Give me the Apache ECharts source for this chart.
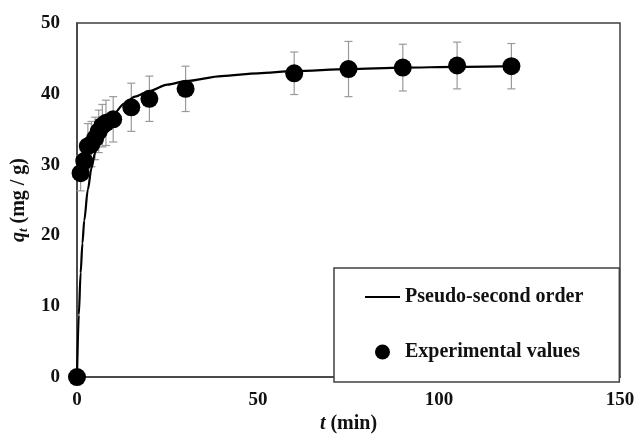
<!DOCTYPE html>
<html>
<head>
<meta charset="utf-8">
<script src="https://cdn.jsdelivr.net/npm/echarts@6/dist/echarts.min.js"></script>
<style>
  html, body { margin: 0; padding: 0; background: #fff; }
  #chart { width: 638px; height: 439px; }
</style>
</head>
<body>
<div id="chart"></div>
<script>
// experimental points (t in min, qt in mg/g) with error bars
var times = [0, 1, 2, 3, 4, 5, 6, 7, 8, 10, 15, 20, 30, 60, 75, 90, 105, 120];
var qt = [0, 28.8, 30.5, 32.6, 32.9, 33.7, 34.7, 35.5, 35.9, 36.4, 38.1, 39.3, 40.7, 42.9, 43.5, 43.7, 44.0, 43.9];
var qtErr = [0, 2.5, 2.5, 3.2, 3.2, 3.0, 3.0, 3.0, 3.2, 3.2, 3.4, 3.2, 3.2, 3.0, 3.9, 3.3, 3.3, 3.2];

// pseudo-second order curve
var fitTimes = [0, 0.5, 1, 1.5, 2, 3, 4, 5, 6, 8, 10, 13, 16, 20, 25, 30, 40, 50, 60, 75, 90, 105, 120];
var fitQt = [0, 8.8, 14.7, 18.9, 22.1, 26.5, 29.5, 31.7, 33.3, 35.6, 37.1, 38.6, 39.6, 40.4, 41.3, 41.8, 42.5, 42.9, 43.2, 43.5, 43.7, 43.8, 43.9];

var xTicks = [0, 50, 100, 150];
var yTicks = [0, 10, 20, 30, 40, 50];

var font = 'Liberation Serif';

var myChart = echarts.init(document.getElementById('chart'));

var pts = times.map(function (t, i) { return [t, qt[i]]; });
var errs = times.map(function (t, i) { return [t, qt[i] - qtErr[i], qt[i] + qtErr[i]]; });
var fit = fitTimes.map(function (t, i) { return [t, fitQt[i]]; });

var option = {
    backgroundColor: '#ffffff',
    animation: false,
    grid: {
        left: 77, top: 23, right: 18, bottom: 57,
        show: true, borderColor: '#404040', borderWidth: 1.5
    },
    legend: {
        orient: 'vertical',
        left: 334, top: 268,
        padding: [19, 36, 20, 31],
        itemGap: 35,
        itemWidth: 35,
        itemHeight: 15,
        symbolKeepAspect: true,
        borderColor: '#404040',
        borderWidth: 1.5,
        backgroundColor: '#ffffff',
        textStyle: { fontFamily: font, fontWeight: 'bold', fontSize: 20, lineHeight: 20, color: '#111' },
        data: [
            { name: 'Pseudo-second order', icon: 'path://M0,0H35V2.2H0Z' },
            { name: 'Experimental values', icon: 'circle' }
        ]
    },
    xAxis: {
        type: 'value',
        min: xTicks[0], max: xTicks[xTicks.length - 1], interval: 50,
        name: '{i|t} (min)',
        nameLocation: 'middle',
        nameGap: 36,
        nameTextStyle: {
            fontFamily: font, fontWeight: 'bold', fontSize: 20, color: '#111',
            rich: { i: { fontFamily: font, fontWeight: 'bold', fontStyle: 'italic', fontSize: 20, color: '#111' } }
        },
        axisLine: { lineStyle: { color: '#404040', width: 1.5 } },
        axisTick: { show: false },
        splitLine: { show: false },
        axisLabel: { margin: 13, fontFamily: font, fontWeight: 'bold', fontSize: 19, color: '#111' }
    },
    yAxis: {
        type: 'value',
        min: yTicks[0], max: yTicks[yTicks.length - 1], interval: 10,
        name: '{q|q}{s|t}{n| (mg / g)}',
        nameLocation: 'middle',
        nameGap: 45,
        nameTextStyle: {
            fontFamily: font, fontWeight: 'bold', fontSize: 20, color: '#111',
            rich: {
                q: { fontFamily: font, fontWeight: 'bold', fontStyle: 'italic', fontSize: 20, color: '#111' },
                s: { fontFamily: font, fontWeight: 'bold', fontStyle: 'italic', fontSize: 13, color: '#111', padding: [9, 0, 0, 0] },
                n: { fontFamily: font, fontWeight: 'bold', fontSize: 20, color: '#111' }
            }
        },
        axisLine: { lineStyle: { color: '#404040', width: 1.5 } },
        axisTick: { show: false },
        splitLine: { show: false },
        axisLabel: { margin: 17, fontFamily: font, fontWeight: 'bold', fontSize: 19, color: '#111' }
    },
    series: [
        {
            type: 'custom',
            name: 'err',
            silent: true,
            z: 1,
            renderItem: function (params, api) {
                var x = api.value(0);
                var lo = api.coord([x, api.value(1)]);
                var hi = api.coord([x, api.value(2)]);
                var c = 4;
                var st = { stroke: '#9a9a9a', lineWidth: 1.2 };
                return {
                    type: 'group',
                    children: [
                        { type: 'line', shape: { x1: lo[0], y1: lo[1], x2: hi[0], y2: hi[1] }, style: st },
                        { type: 'line', shape: { x1: lo[0] - c, y1: lo[1], x2: lo[0] + c, y2: lo[1] }, style: st },
                        { type: 'line', shape: { x1: hi[0] - c, y1: hi[1], x2: hi[0] + c, y2: hi[1] }, style: st }
                    ]
                };
            },
            data: errs
        },
        {
            type: 'line',
            name: 'Pseudo-second order',
            data: fit,
            smooth: 0.3,
            smoothMonotone: 'x',
            symbol: 'none',
            z: 3,
            lineStyle: { color: '#000', width: 2.2 },
            itemStyle: { color: '#000' }
        },
        {
            type: 'scatter',
            name: 'Experimental values',
            data: pts,
            symbol: 'circle',
            symbolSize: 18,
            clip: false,
            z: 4,
            itemStyle: { color: '#000', opacity: 1 }
        }
    ]
};
myChart.setOption(option);
</script>
</body>
</html>
